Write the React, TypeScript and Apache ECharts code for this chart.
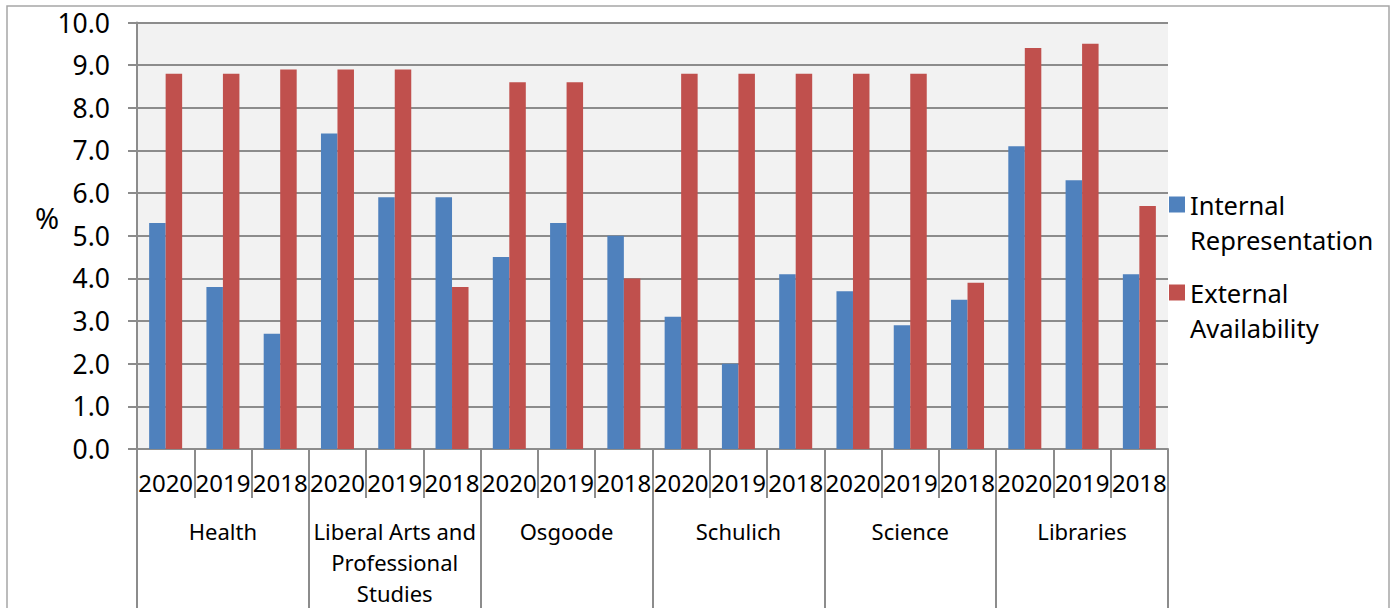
import React, { useEffect, useRef } from "react";
import * as echarts from "echarts";

const years = ["2020", "2019", "2018", "2020", "2019", "2018", "2020", "2019", "2018", "2020", "2019", "2018", "2020", "2019", "2018", "2020", "2019", "2018"];
const groups = ["Health", "Liberal Arts and\nProfessional\nStudies", "Osgoode", "Schulich", "Science", "Libraries"];
const internalRep = [5.3, 3.8, 2.7, 7.4, 5.9, 5.9, 4.5, 5.3, 5.0, 3.1, 2.0, 4.1, 3.7, 2.9, 3.5, 7.1, 6.3, 4.1];
const externalAvail = [8.8, 8.8, 8.9, 8.9, 8.9, 3.8, 8.6, 8.6, 4.0, 8.8, 8.8, 8.8, 8.8, 8.8, 3.9, 9.4, 9.5, 5.7];
const yTicks = { min: 0, max: 10, interval: 1 };

const FONT = "Noto Sans";
const GRID = "#8c8c8c";

export default function App() {
  const ref = useRef<HTMLDivElement>(null);
  useEffect(() => {
    if (!ref.current) return;
    const chart = echarts.init(ref.current, null, { renderer: "svg" });
    chart.setOption({
      animation: false,
      textStyle: { fontFamily: FONT },
      title: {
        text: "%",
        left: 30,
        top: 198,
        textStyle: { fontFamily: FONT, fontSize: 29, fontWeight: "normal", color: "#000" },
      },
      graphic: [
        {
          type: "rect",
          shape: { x: 7, y: 6, width: 1382, height: 640 },
          style: { fill: "none", stroke: "#a6a6a6", lineWidth: 1.5 },
          silent: true,
          z: -10,
        },
      ],
      legend: {
        orient: "vertical",
        left: 1169,
        top: 152,
        padding: 0,
        icon: "rect",
        itemWidth: 16,
        itemHeight: 16,
        itemGap: -17,
        formatter: (n: string) => "\n" + n.replace(" ", "\n"),
        textStyle: { fontFamily: FONT, fontSize: 25.5, lineHeight: 35, color: "#000" },
        data: ["Internal Representation", "External Availability"],
      },
      grid: {
        left: 137,
        right: 225,
        top: 22.5,
        bottom: 157,
        show: true,
        backgroundColor: "#F2F2F2",
        borderWidth: 0,
      },
      xAxis: [
        {
          type: "category",
          data: years,
          position: "bottom",
          axisLine: { show: true, lineStyle: { color: GRID, width: 2 } },
          axisTick: { show: true, interval: 0, length: 49, lineStyle: { color: GRID, width: 2 } },
          axisLabel: { interval: 0, fontFamily: FONT, fontSize: 24, color: "#000", margin: 21 },
        },
        {
          type: "category",
          data: groups,
          position: "bottom",
          offset: 0,
          axisLine: { show: false },
          axisTick: { show: true, interval: 0, length: 160, lineStyle: { color: GRID, width: 2 } },
          axisLabel: { interval: 0, fontFamily: FONT, fontSize: 22, lineHeight: 31, color: "#000", margin: 66 },
        },
      ],
      yAxis: {
        type: "value",
        min: yTicks.min,
        max: yTicks.max,
        interval: yTicks.interval,
        axisLine: { show: true, lineStyle: { color: GRID, width: 2 } },
        axisTick: { show: true, length: 9, lineStyle: { color: GRID, width: 2 } },
        splitLine: { show: true, lineStyle: { color: GRID, width: 2 } },
        axisLabel: {
          fontFamily: FONT,
          fontSize: 26.5,
          color: "#000",
          margin: 27,
          formatter: (v: number) => v.toFixed(1),
        },
      },
      series: [
        {
          name: "Internal Representation",
          type: "bar",
          xAxisIndex: 0,
          data: internalRep,
          barWidth: 16.5,
          barGap: "0%",
          itemStyle: { color: "#4F81BD" },
        },
        {
          name: "External Availability",
          type: "bar",
          xAxisIndex: 0,
          data: externalAvail,
          barWidth: 16.5,
          barGap: "0%",
          itemStyle: { color: "#C0504D" },
        },
      ],
    });
    return () => chart.dispose();
  }, []);
  return (
    <div
      ref={ref}
      style={{ position: "fixed", left: 0, top: 0, width: 1393, height: 608, background: "#fff" }}
    />
  );
}
